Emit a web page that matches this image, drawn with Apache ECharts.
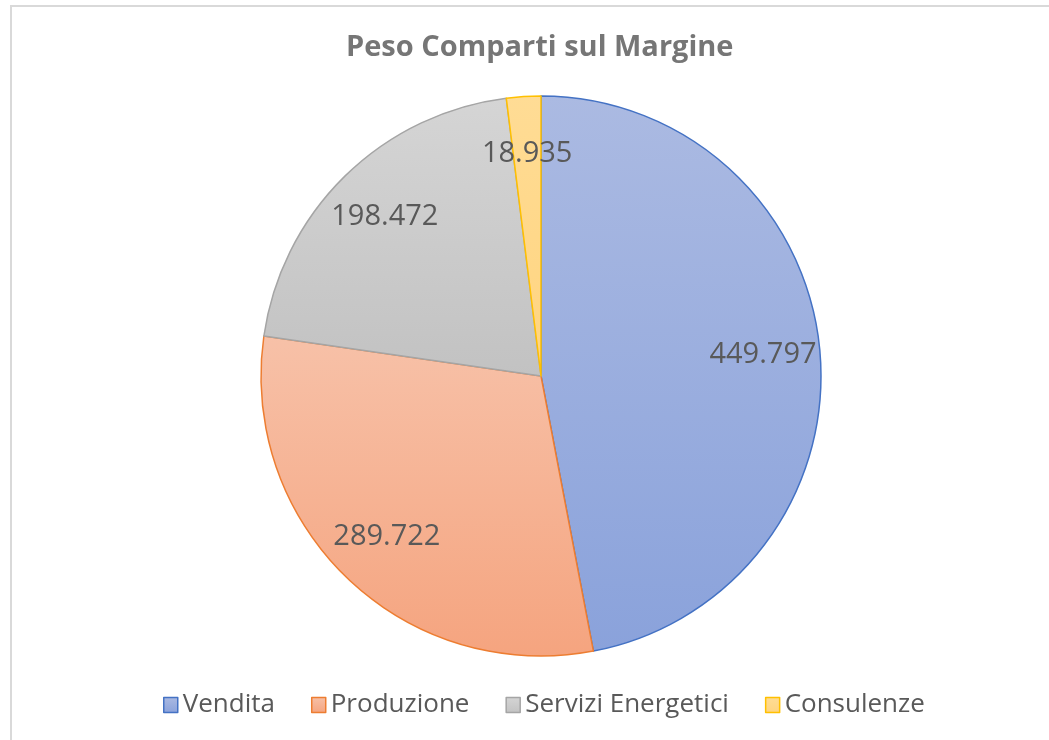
<!DOCTYPE html>
<html>
<head>
<meta charset="utf-8">
<script src="https://cdn.jsdelivr.net/npm/echarts@6/dist/echarts.min.js"></script>
<style>
  html, body { margin: 0; padding: 0; background: #fff; }
  #myChart { width: 1049px; height: 740px; }
</style>
</head>
<body>
<div id="myChart"></div>
<script>
// dati del grafico
var categories = ['Vendita', 'Produzione', 'Servizi Energetici', 'Consulenze'];
var values = [449.797, 289.722, 198.472, 18.935];
var labels = ['449.797', '289.722', '198.472', '18.935'];

// colori (bordo, sfumatura alto, sfumatura basso)
var borderColors = ['#4472c4', '#ed7d31', '#a5a5a5', '#ffc000'];
var topColors = ['#abbae2', '#f7c1a8', '#d5d5d5', '#ffdc95'];
var bottomColors = ['#8aa2db', '#f5a47f', '#c2c2c2', '#ffd47f'];

function grad(i) {
  return new echarts.graphic.LinearGradient(0, 0, 0, 1, [
    { offset: 0, color: topColors[i] },
    { offset: 1, color: bottomColors[i] }
  ]);
}

var pieData = categories.map(function (name, i) {
  return {
    name: name,
    value: values[i],
    itemStyle: { color: grad(i), borderColor: borderColors[i], borderWidth: 1.5 }
  };
});

var labelData = categories.map(function (name, i) {
  return { name: name, value: values[i], label: { formatter: labels[i] } };
});

var myChart = echarts.init(document.getElementById('myChart'));
myChart.setOption({
  animation: false,
  title: {
    text: 'Peso Comparti sul Margine',
    left: 341,
    top: 28,
    textStyle: { fontFamily: 'Open Sans', fontSize: 29, fontWeight: 'bold', color: '#767676' }
  },
  graphic: [{
    type: 'rect',
    shape: { x: 11, y: 6, width: 1100, height: 800 },
    style: { fill: 'none', stroke: '#d9d9d9', lineWidth: 2 },
    silent: true
  }],
  legend: {
    bottom: 17,
    left: 158,
    itemWidth: 14,
    itemHeight: 15,
    itemGap: 36,
    icon: 'rect',
    textStyle: { fontFamily: 'Open Sans', fontSize: 26, color: '#595959' },
    data: categories.map(function (name, i) {
      return { name: name, itemStyle: { color: grad(i), borderColor: borderColors[i], borderWidth: 1.5 } };
    })
  },
  series: [
    {
      name: 'Margine',
      type: 'pie',
      center: [541, 376],
      radius: [0, 280],
      startAngle: 90,
      clockwise: true,
      label: { show: false },
      labelLine: { show: false },
      emphasis: { disabled: true },
      data: pieData
    },
    {
      name: 'etichette',
      type: 'pie',
      center: [541, 376],
      radius: [160, 280],
      startAngle: 90,
      clockwise: true,
      silent: true,
      itemStyle: { color: 'rgba(0,0,0,0)', borderWidth: 0 },
      label: {
        show: true,
        position: 'inside',
        fontFamily: 'Open Sans',
        fontSize: 29,
        color: '#595959'
      },
      labelLine: { show: false },
      emphasis: { disabled: true },
      data: labelData
    }
  ]
});
</script>
</body>
</html>
